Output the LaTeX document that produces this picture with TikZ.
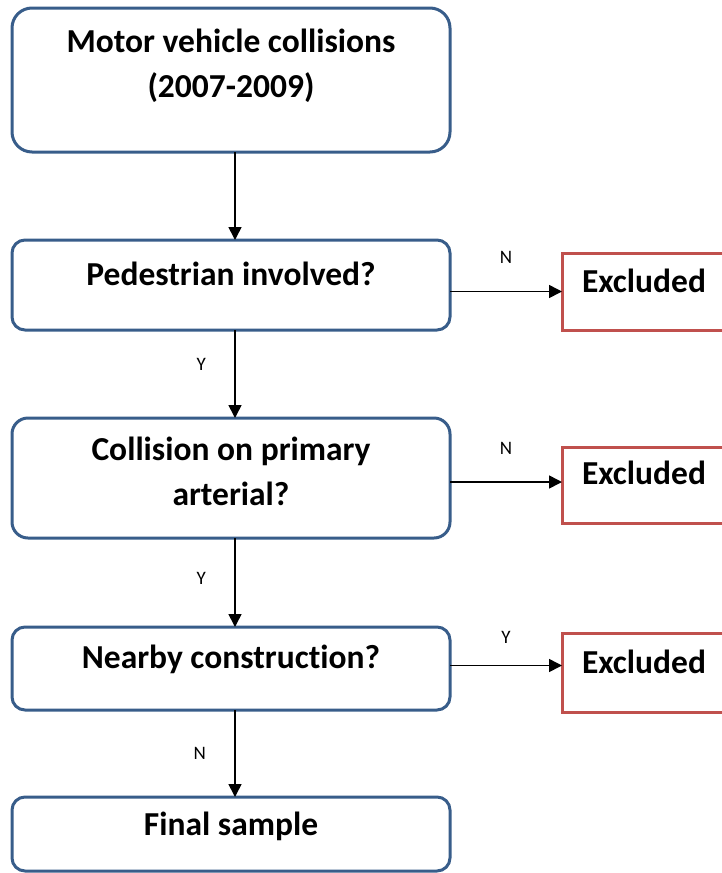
\documentclass[tikz,border=0pt]{standalone}
\usepackage{fontspec}
\setmainfont{Carlito}[Ligatures=NoCommon]
\usetikzlibrary{arrows.meta,positioning}
\definecolor{boxblue}{HTML}{385D8A}
\definecolor{exred}{HTML}{C0504D}
\begin{document}
\begin{tikzpicture}[x=1pt, y=-1pt,
  every node/.append style={outer sep=0pt},
  stepbox/.style={draw=boxblue, line width=3pt, fill=white, rounded corners=#1, minimum width=438pt,
    inner ysep=0pt, align=center, anchor=north, font=\fontsize{33.5}{45}\selectfont\bfseries},
  outbox/.style={draw=exred, line width=3pt, fill=white, text width=138pt, inner xsep=20pt,
    inner ysep=0pt, align=left, anchor=north, font=\fontsize{33.5}{45}\selectfont\bfseries},
  arr/.style={-{Triangle[length=13pt,width=13pt]}, line width=1.6pt},
  lbl/.style={inner sep=0pt, font=\fontsize{19}{19}\selectfont}]
  \useasboundingbox (0,0) rectangle (722,873);
  \clip (0,0) rectangle (722,873);
  % main column
  \node[stepbox=20pt, text height=89pt, text depth=55pt] (start) at (231,8) {Motor vehicle collisions\\(2007-2009)};
  \node[stepbox=13pt, text height=45pt, text depth=45pt] (ped) at (231,240) {Pedestrian involved?};
  \node[stepbox=16pt, text height=87pt, text depth=33pt] (coll) at (231,418) {Collision on primary\\arterial?};
  \node[stepbox=13pt, text height=41pt, text depth=42pt] (near) at (231,627) {Nearby construction?};
  \node[stepbox=13pt, text height=38pt, text depth=36pt] (final) at (231,797) {Final sample};
  % excluded
  \node[outbox, text height=39pt, text depth=38pt] (ex1) at (651,253) {Excluded};
  \node[outbox, text height=37pt, text depth=39pt] (ex2) at (651,447) {Excluded};
  \node[outbox, text height=40pt, text depth=39pt] (ex3) at (651,633) {Excluded};
  % arrows down
  \draw[arr] ([xshift=4pt]start.south) -- ([xshift=4pt]ped.north);
  \draw[arr] ([xshift=4pt]ped.south) -- node[lbl, midway, left=29pt, yshift=10pt] (y1) {Y} ([xshift=4pt]coll.north);
  \draw[arr] ([xshift=4pt]coll.south) -- node[lbl, midway, left=29pt, yshift=4pt] (y2) {Y} ([xshift=4pt]near.north);
  \draw[arr] ([xshift=4pt]near.south) -- node[lbl, midway, left=29pt] (n3) {N} ([xshift=4pt]final.north);
  % arrows across
  \draw[arr] (ped.east |- ex1.west) -- node[lbl, midway, above=28pt] (n1) {N} (ex1.west);
  \draw[arr] ([yshift=3pt]coll.east |- ex2.west) -- node[lbl, midway, above=28pt] (n2) {N} ([yshift=3pt]ex2.west);
  \draw[arr] ([yshift=7pt]near.east |- ex3.west) -- node[lbl, midway, above=22pt] (y3) {Y} ([yshift=7pt]ex3.west);
\end{tikzpicture}
\end{document}
